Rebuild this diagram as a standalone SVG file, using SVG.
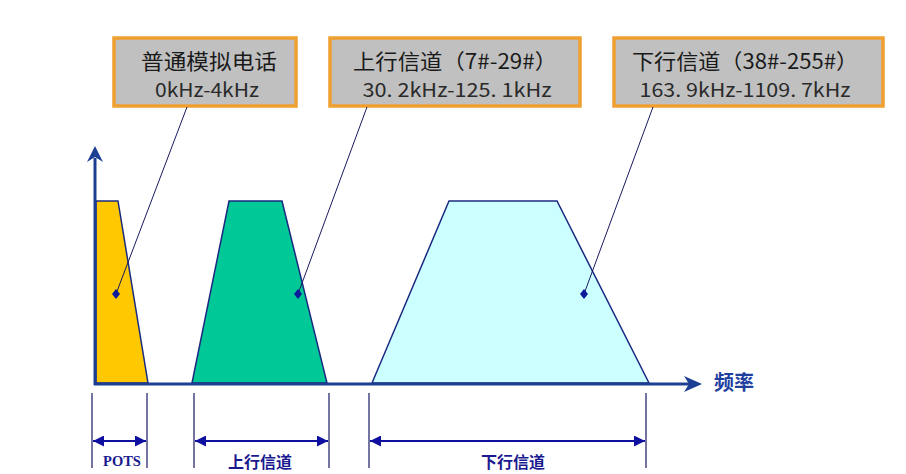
<svg xmlns="http://www.w3.org/2000/svg" width="906" height="474" viewBox="0 0 906 474">
<style>
.box{fill:#C0C0C0;stroke:#F0A030;stroke-width:3.5}
.t1{font-family:"Noto Sans CJK SC","Noto Sans",sans-serif;font-size:21px;fill:#1A1A1A;text-anchor:middle}
.t2{font-family:"Noto Sans CJK SC","Noto Sans",sans-serif;font-size:19px;fill:#2A2A2A;text-anchor:middle}
.shape{stroke:#1A2A80;stroke-width:1.5;stroke-linejoin:miter}
.axis{stroke:#1C3F94;stroke-width:3;fill:none}
.lead{stroke:#1A1A60;stroke-width:1;fill:none}
.dot{fill:#0A1A9A}
.tick{stroke:#2A2A70;stroke-width:1.3}
.dim{stroke:#1010A0;stroke-width:1.8;fill:none;marker-start:url(#ah);marker-end:url(#ah)}
.lbl{font-family:"Liberation Serif","Noto Sans CJK SC",serif;font-weight:bold;font-size:14.5px;fill:#1A1A90;text-anchor:middle}
.lblc{font-family:"Noto Sans CJK SC",sans-serif;font-weight:bold;font-size:16px;fill:#1A1A90;text-anchor:middle}
</style>
<defs>
<marker id="ah" viewBox="0 0 10 10" refX="10" refY="5" markerWidth="11" markerHeight="11" markerUnits="userSpaceOnUse" orient="auto-start-reverse">
<path d="M0,0 L10,5 L0,10 Z" fill="#1010A0"/>
</marker>
</defs>
<rect width="906" height="474" fill="#FFFFFF"/>

<g id="shapes">
<polygon id="pots-band" class="shape" fill="#FFC800" points="96,201 118,201 148,383 96,383"/>
<polygon id="up-band" class="shape" fill="#00C896" points="192,383 229,201 282,201 327,383"/>
<polygon id="down-band" class="shape" fill="#CCFFFF" points="372,383 449,201 557,201 649,383"/>
</g>

<g id="axes">
<line class="axis" x1="95" y1="385" x2="95" y2="158"/>
<polygon fill="#1C3F94" points="95,146 103,162 95,157 87,162"/>
<line class="axis" x1="94" y1="384" x2="690" y2="384"/>
<polygon fill="#1C3F94" points="702,384 684,376 689,384 684,392"/>
<text x="734" y="390" font-family="Noto Sans CJK SC,sans-serif" font-size="20" font-weight="bold" fill="#1F3F9F" text-anchor="middle">频率</text>
</g>

<g id="box-pots">
<rect class="box" x="114" y="38" width="182" height="68"/>
<text class="t1" x="209" y="69" textLength="136" lengthAdjust="spacingAndGlyphs">普通模拟电话</text>
<text class="t2" x="207" y="97" textLength="104" lengthAdjust="spacingAndGlyphs">0kHz-4kHz</text>
</g>
<g id="box-up">
<rect class="box" x="330" y="38" width="250" height="68"/>
<text class="t1" x="455" y="69" textLength="204" lengthAdjust="spacingAndGlyphs">上行信道（7#-29#）</text>
<text class="t2" x="457" y="97" textLength="189" lengthAdjust="spacingAndGlyphs">30. 2kHz-125. 1kHz</text>
</g>
<g id="box-down">
<rect class="box" x="614" y="38" width="269" height="68"/>
<text class="t1" x="745" y="69" textLength="226" lengthAdjust="spacingAndGlyphs">下行信道（38#-255#）</text>
<text class="t2" x="745" y="97" textLength="211" lengthAdjust="spacingAndGlyphs">163. 9kHz-1109. 7kHz</text>
</g>

<g id="connectors">
<line class="lead" x1="187" y1="107" x2="116" y2="294"/>
<line class="lead" x1="367" y1="107" x2="298" y2="294"/>
<line class="lead" x1="653" y1="107" x2="584" y2="294"/>
<polygon class="dot" points="116,289 120,294 116,299 112,294"/>
<polygon class="dot" points="298,289 302,294 298,299 294,294"/>
<polygon class="dot" points="584,289 588,294 584,299 580,294"/>
</g>

<g id="dimensions">
<line class="tick" x1="92" y1="393" x2="92" y2="468"/>
<line class="tick" x1="147" y1="393" x2="147" y2="468"/>
<line class="tick" x1="194" y1="393" x2="194" y2="468"/>
<line class="tick" x1="329" y1="393" x2="329" y2="468"/>
<line class="tick" x1="369" y1="393" x2="369" y2="468"/>
<line class="tick" x1="646" y1="393" x2="646" y2="468"/>
<line class="dim" x1="93" y1="441" x2="146" y2="441"/>
<line class="dim" x1="195" y1="441" x2="328" y2="441"/>
<line class="dim" x1="370" y1="441" x2="645" y2="441"/>
<text class="lbl" x="122" y="466">POTS</text>
<text class="lblc" x="260" y="468">上行信道</text>
<text class="lblc" x="513" y="468">下行信道</text>
</g>
</svg>
